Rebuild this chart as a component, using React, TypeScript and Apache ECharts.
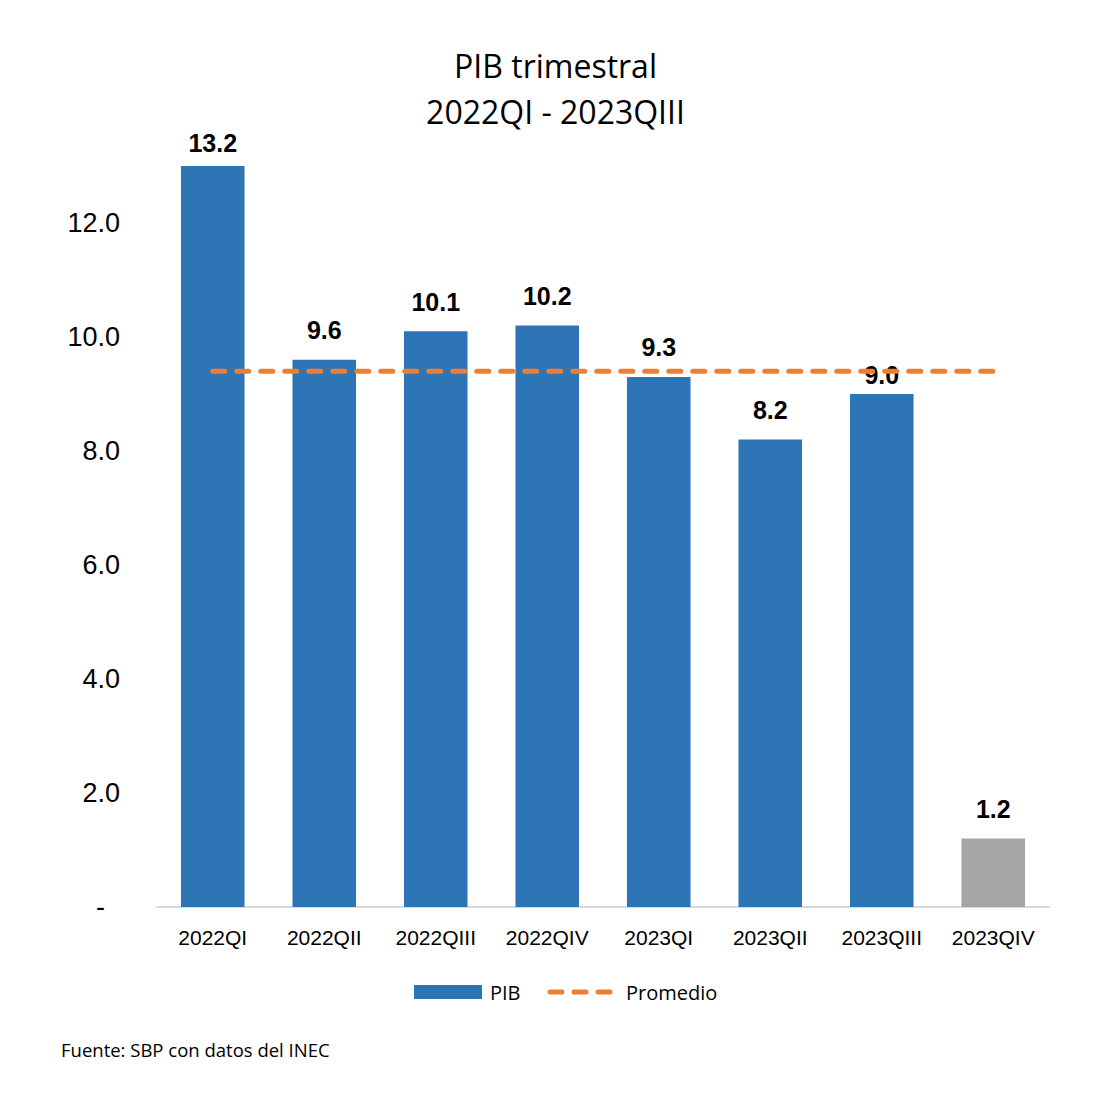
import React, { useEffect, useRef } from "react";
import * as echarts from "echarts";

const categories = ["2022QI", "2022QII", "2022QIII", "2022QIV", "2023QI", "2023QII", "2023QIII", "2023QIV"];
const pibValues = [13.2, 9.6, 10.1, 10.2, 9.3, 8.2, 9.0, 1.2];
const promedioValues = [9.4, 9.4, 9.4, 9.4, 9.4, 9.4, 9.4, 9.4];
const barColors = ["#2E75B6", "#2E75B6", "#2E75B6", "#2E75B6", "#2E75B6", "#2E75B6", "#2E75B6", "#A5A5A5"];
const labelDistances = [11, 17, 17, 17, 17, 17, 7, 17];
const yTicks = { min: 0, max: 13, interval: 2 };
const titleText = "PIB trimestral\n2022QI - 2023QIII";
const sourceText = "Fuente: SBP con datos del INEC";

export default function App() {
  const ref = useRef<HTMLDivElement>(null);
  useEffect(() => {
    if (!ref.current) return;
    const chart = echarts.init(ref.current, undefined, { renderer: "svg" });
    const dash = { color: "#ED7D31", width: 5, type: [12, 12], cap: "round" };
    chart.setOption({
      animation: false,
      backgroundColor: "#ffffff",
      title: {
        text: titleText,
        left: "center",
        top: 37,
        textStyle: {
          fontFamily: "Open Sans",
          fontSize: 32,
          fontWeight: "normal",
          color: "#000000",
          lineHeight: 46,
        },
      },
      grid: { left: 157, right: 62, top: 166, bottom: 201, containLabel: false },
      legend: {
        left: 409,
        top: 977,
        itemGap: 27,
        itemWidth: 68,
        itemHeight: 14,
        textStyle: { fontFamily: "Open Sans", fontSize: 20, color: "#000000", padding: [0, 0, 0, 3] },
        data: [
          { name: "PIB", icon: "rect" },
          { name: "Promedio", itemStyle: { opacity: 0 }, lineStyle: dash },
        ],
      },
      xAxis: {
        type: "category",
        data: categories,
        axisTick: { show: false },
        axisLine: { lineStyle: { color: "#D9D9D9", width: 2 } },
        axisLabel: {
          fontFamily: "Liberation Sans",
          fontSize: 21,
          color: "#000000",
          margin: 20,
        },
      },
      yAxis: {
        type: "value",
        min: yTicks.min,
        max: yTicks.max,
        interval: yTicks.interval,
        splitLine: { show: false },
        axisLine: { show: false },
        axisTick: { show: false },
        axisLabel: {
          fontFamily: "Liberation Sans",
          fontSize: 27,
          color: "#000000",
          margin: 37,
          showMaxLabel: false,
          formatter: (v: number) => (v === 0 ? "-  " : v % 2 === 0 ? v.toFixed(1) : ""),
        },
      },
      series: [
        {
          name: "PIB",
          type: "bar",
          barWidth: "57%",
          itemStyle: { color: "#2E75B6" },
          data: pibValues.map((v, i) => ({
            value: v,
            itemStyle: { color: barColors[i] },
            label: { distance: labelDistances[i] },
          })),
          label: {
            show: true,
            position: "top",
            fontFamily: "Liberation Sans",
            fontWeight: "bold",
            fontSize: 25,
            color: "#000000",
            formatter: (p: any) => Number(p.value).toFixed(1),
          },
          z: 1,
        },
        {
          name: "Promedio",
          type: "line",
          data: promedioValues,
          symbol: "none",
          showSymbol: false,
          itemStyle: { color: "#ED7D31" },
          lineStyle: dash,
          z: 3,
        },
      ],
      graphic: [
        {
          type: "text",
          left: 61,
          top: 1040,
          style: {
            text: sourceText,
            fontFamily: "Open Sans",
            fontSize: 18.5,
            fill: "#000000",
          },
        },
      ],
    });
    return () => chart.dispose();
  }, []);
  return (
    <div
      ref={ref}
      style={{ position: "absolute", left: 0, top: 0, width: 1111, height: 1108 }}
    />
  );
}
